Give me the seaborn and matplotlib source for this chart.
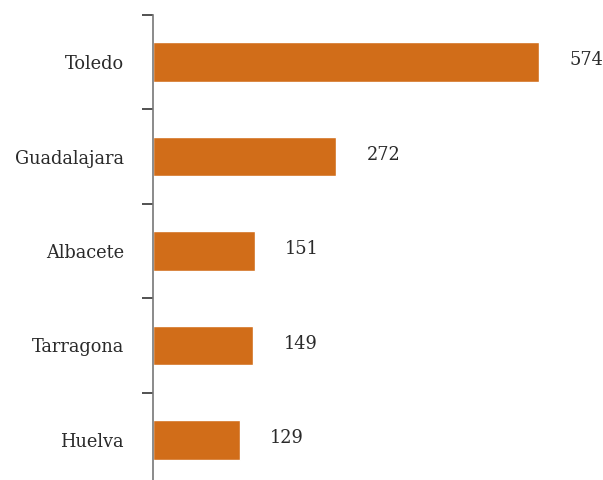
import matplotlib
matplotlib.use("Agg")
import matplotlib.pyplot as plt
import seaborn as sns
import pandas as pd
import numpy as np

categories = ["Toledo", "Guadalajara", "Albacete", "Tarragona", "Huelva"]
values = [574, 272, 151, 149, 129]

df = pd.DataFrame({"prov": categories, "val": values})

sns.set_style("white")
plt.rcParams['font.family'] = ['DejaVu Serif', 'Liberation Serif']

fig = plt.figure(figsize=(6.03, 4.8), dpi=100)
ax = fig.add_axes([153/603, -7/480, 447/603, 472/480])

sns.barplot(data=df, x="val", y="prov", orient="h", color="#D16D19",
            saturation=1, width=0.42, ax=ax)

ax.set_xlim(0, 664)
ax.set_ylim(4.5, -0.5)
for sp in ["top", "right", "bottom"]:
    ax.spines[sp].set_visible(False)
ax.spines["left"].set_color("#777777")
ax.spines["left"].set_linewidth(1.2)

ax.set_xticks([])
ax.set_xlabel("")
ax.set_ylabel("")
ax.set_yticks(range(len(categories)))
ax.set_yticklabels(categories, fontsize=12.8, color="#2a2a2a")
ax.tick_params(axis="y", which="major", left=False, length=0, pad=21)
ax.set_yticks(np.arange(-0.5, len(categories) - 0.5, 1), minor=True)
ax.tick_params(axis="y", which="minor", left=True, length=8, width=1.2, color="#333333")

for i, v in enumerate(values):
    ax.text(v + 45, i - 0.02, f"{v}", va="center", ha="left", fontsize=12.8, color="#2a2a2a")

fig.savefig("out.png", dpi=100)
